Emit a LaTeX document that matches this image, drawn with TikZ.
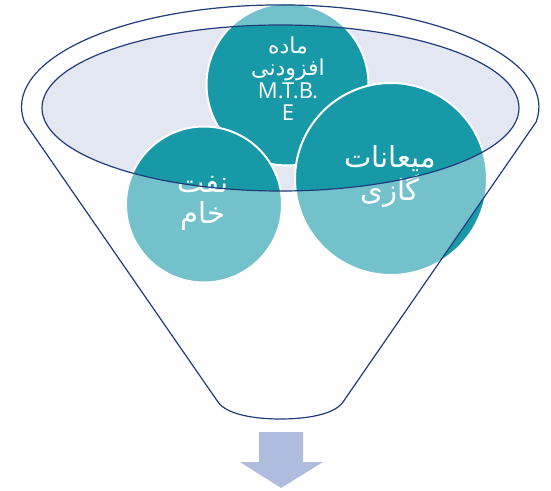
\documentclass[tikz,border=0pt]{standalone}
\usepackage{fontspec}
\newfontfamily\arabicfont[Script=Arabic]{DejaVu Sans}
\newfontfamily\latinfont{Open Sans}
\TeXXeTstate=1
\usetikzlibrary{positioning}
\definecolor{tealdark}{HTML}{1799A7}
\definecolor{lavender}{HTML}{E3E7F2}
\definecolor{funnelline}{HTML}{203C7C}
\definecolor{arrowblue}{HTML}{AFBCDE}
\tikzset{
    bubble/.style = {circle, fill=tealdark, draw=white, line width=2pt,
        inner sep=0pt},
    caption/.style = {text=white, align=center, inner sep=0pt},
    rim/.style = {draw=funnelline, line width=1.2pt},
    glass/.style = {fill=white, fill opacity=0.4, even odd rule}
}
\def\funnelpath{%
    (24.4,368) arc[start angle=188.5, end angle=-8.5, x radius=258.7, y radius=102]
    -- (343,88) .. controls (334,75) and (305,71) .. (280.5,71)
    .. controls (256,71) and (227,75) .. (218,88) -- cycle
}
\def\openingpath{(280.5,382) ellipse[x radius=238.5, y radius=83]}

\begin{document}
\begin{tikzpicture}[x=1pt, y=1pt]
        \useasboundingbox (0,0) rectangle (551,490);
        \fill [lavender] \openingpath;
        \node [bubble, minimum size=162pt] (additive) at (287.5,405.5) {};
        \node [bubble, minimum size=156pt] (crude) at (204,285.5) {};
        \node [bubble, minimum size=192pt] (condensate) at (391,311) {};
        \node [caption, font=\fontsize{22}{22.5}\selectfont] (additivetext) at ([xshift=0.5pt,yshift=6pt]additive.center)
            {{\arabicfont\beginR ماده\endR}\\{\arabicfont\beginR افزودنی\endR}\\{\latinfont M.T.B.}\\{\latinfont E}};
        \node [caption, font=\fontsize{29}{31}\selectfont] (crudetext) at ([xshift=-1pt,yshift=1.5pt]crude.center)
            {{\arabicfont\beginR نفت\endR}\\{\arabicfont\beginR خام\endR}};
        \node [caption, font=\fontsize{29}{33}\selectfont] (condensatetext) at ([xshift=-1pt,yshift=2.5pt]condensate.center)
            {{\arabicfont\beginR میعانات\endR}\\{\arabicfont\beginR گازی\endR}};
        \fill [glass] \funnelpath \openingpath;
        \draw [rim] \funnelpath;
        \draw [rim] \openingpath;
        \fill [arrowblue] (259,58) -- (303,58) -- (303,28) -- (323,28) -- (281,2) -- (240,28) -- (259,28) -- cycle;
\end{tikzpicture}
\end{document}
